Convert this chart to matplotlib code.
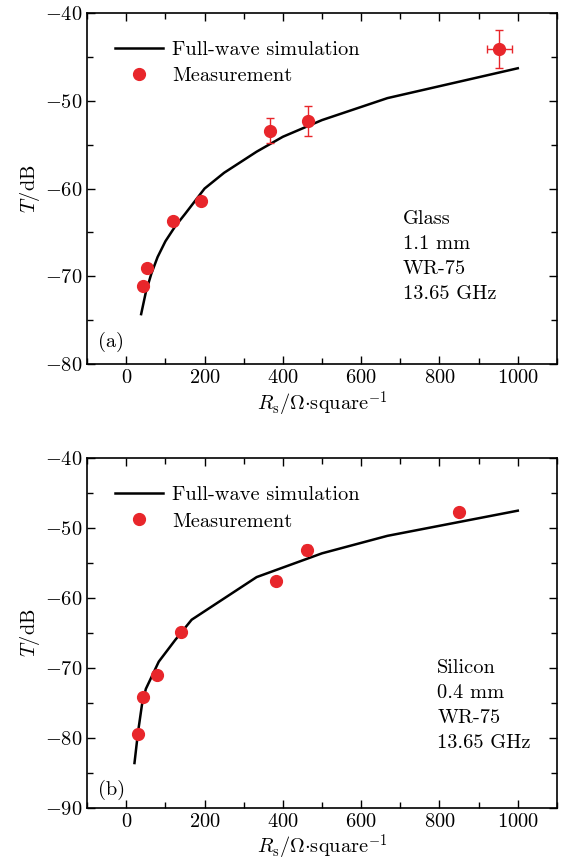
import matplotlib
matplotlib.use("Agg")
import matplotlib.pyplot as plt
from matplotlib.ticker import MultipleLocator
from matplotlib.lines import Line2D

plt.rcParams['font.family'] = 'cmr10'
plt.rcParams['mathtext.fontset'] = 'cm'
plt.rcParams['axes.formatter.use_mathtext'] = True
plt.rcParams['font.size'] = 14.7

# panel (a): glass, 1.1 mm
sim_a_x = [38, 50, 64, 80, 100, 125, 150, 200, 250, 333, 400, 500, 667, 1000]
sim_a_y = [-74.3, -71.8, -69.7, -67.8, -66.0, -64.3, -62.9, -60.0, -58.2, -55.8, -54.1, -52.2, -49.7, -46.3]
meas_a_x = [42, 53, 119, 190, 368, 465, 953]
meas_a_y = [-71.1, -69.0, -63.7, -61.4, -53.4, -52.3, -44.1]
meas_a_yerr = [0.4, 0.4, 0.4, 0.4, 1.4, 1.7, 2.2]
meas_a_xerr = [0, 0, 0, 0, 0, 0, 31]

# panel (b): silicon, 0.4 mm
sim_b_x = [21, 30, 40, 50, 83, 125, 167, 333, 500, 667, 1000]
sim_b_y = [-83.6, -79.2, -75.3, -73.0, -69.1, -66.0, -63.1, -57.0, -53.6, -51.1, -47.5]
meas_b_x = [29, 44, 79, 141, 382, 461, 851]
meas_b_y = [-79.5, -74.2, -71.0, -64.8, -57.6, -53.1, -47.7]
meas_b_yerr = [0.3, 0.3, 0.3, 0.3, 0.3, 0.7, 0.3]

red = '#e8262b'

fig = plt.figure(figsize=(5.62, 8.63), dpi=100)
ax1 = fig.add_axes([0.155, 0.578, 0.836, 0.407])
ax2 = fig.add_axes([0.155, 0.064, 0.836, 0.405])


def style(ax, ylo):
    ax.set_xlim(-100, 1100)
    ax.set_ylim(ylo, -40)
    ax.xaxis.set_major_locator(MultipleLocator(200))
    ax.xaxis.set_minor_locator(MultipleLocator(100))
    ax.yaxis.set_major_locator(MultipleLocator(10))
    ax.yaxis.set_minor_locator(MultipleLocator(5))
    ax.tick_params(which='both', direction='in', top=True, right=True, width=1)
    ax.tick_params(which='major', length=6)
    ax.tick_params(which='minor', length=4)
    for s in ax.spines.values():
        s.set_linewidth(1.2)
    ax.set_ylabel(r'$T$/dB', labelpad=2)
    ax.set_xlabel(r'$R_{\rm s}/\Omega{\cdot}{\rm square}^{-1}$', labelpad=2)
    handles = [Line2D([], [], color='black', lw=1.8),
               Line2D([], [], marker='o', ls='none', color=red, ms=8.5)]
    ax.legend(handles, ['Full-wave simulation', 'Measurement'], loc='upper left',
              frameon=False, handlelength=2.35, handletextpad=0.45,
              borderaxespad=0.75, labelspacing=0.4, borderpad=0.6)


ax1.plot(sim_a_x, sim_a_y, color='black', lw=1.8)
ax1.errorbar(meas_a_x, meas_a_y, yerr=meas_a_yerr, xerr=meas_a_xerr, fmt='o', color=red,
             ms=8.5, elinewidth=1, capsize=3)
style(ax1, -80)
ax1.text(0.672, 0.185, 'Glass\n1.1 mm\nWR-75\n13.65 GHz', transform=ax1.transAxes,
         va='baseline', linespacing=1.52)
ax1.text(0.023, 0.049, '(a)', transform=ax1.transAxes, va='baseline')

ax2.plot(sim_b_x, sim_b_y, color='black', lw=1.8)
ax2.errorbar(meas_b_x, meas_b_y, yerr=meas_b_yerr, fmt='o', color=red,
             ms=8.5, elinewidth=1, capsize=3)
style(ax2, -90)
ax2.text(0.745, 0.171, 'Silicon\n0.4 mm\nWR-75\n13.65 GHz', transform=ax2.transAxes,
         va='baseline', linespacing=1.52)
ax2.text(0.023, 0.037, '(b)', transform=ax2.transAxes, va='baseline')

fig.savefig('out.png', dpi=100)
